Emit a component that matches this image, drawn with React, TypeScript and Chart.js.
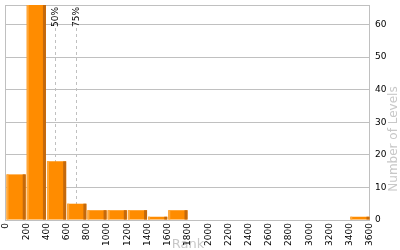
import { useEffect, useRef } from 'react';
import { Chart, registerables } from 'chart.js';

Chart.register(...registerables);

const binStarts = [0, 200, 400, 600, 800, 1000, 1200, 1400, 1600, 1800, 2000, 2200, 2400, 2600, 2800, 3000, 3200, 3400];
const levelCounts = [14, 66, 18, 5, 3, 3, 3, 1, 3, 0, 0, 0, 0, 0, 0, 0, 0, 1];
const binWidth = 200;
const xTickValues = [0, 200, 400, 600, 800, 1000, 1200, 1400, 1600, 1800, 2000, 2200, 2400, 2600, 2800, 3000, 3200, 3400, 3600];
const yTickValues = [0, 10, 20, 30, 40, 50, 60];
const yMax = 66;
const percentileValues = [487, 688];
const percentileLabels = ['50%', '75%'];
const xTitle = 'Rank';
const yTitle = 'Number of Levels';

const FONT = "'DejaVu Sans', Verdana, sans-serif";

const decorPlugin = {
  id: 'decor',
  beforeDatasetsDraw(chart: any) {
    const { ctx, chartArea } = chart;
    const xs = chart.scales.x;
    ctx.save();
    // box border
    ctx.strokeStyle = '#c0c0c0';
    ctx.lineWidth = 1;
    ctx.strokeRect(
      Math.round(chartArea.left) - 0.5,
      Math.round(chartArea.top) + 0.5,
      Math.round(chartArea.right - chartArea.left),
      Math.round(chartArea.bottom - chartArea.top)
    );
    // percentile lines
    percentileValues.forEach((v, i) => {
      const px = Math.round(xs.getPixelForValue(v)) + 0.5;
      ctx.strokeStyle = '#c0c0c0';
      ctx.setLineDash([3, 3]);
      ctx.beginPath();
      ctx.moveTo(px, chartArea.top + 23);
      ctx.lineTo(px, chartArea.bottom);
      ctx.stroke();
      ctx.setLineDash([]);
      ctx.save();
      ctx.translate(px, chartArea.top + 2);
      ctx.rotate(-Math.PI / 2);
      ctx.fillStyle = '#000';
      ctx.font = `9px ${FONT}`;
      ctx.textAlign = 'right';
      ctx.textBaseline = 'middle';
      ctx.fillText(percentileLabels[i], 0, 0);
      ctx.restore();
    });
    ctx.restore();
  },
  afterDatasetsDraw(chart: any) {
    const { ctx, chartArea } = chart;
    const meta = chart.getDatasetMeta(0);
    ctx.save();
    meta.data.forEach((el: any, i: number) => {
      if (!levelCounts[i]) return;
      const { x, y, base, width } = el.getProps(['x', 'y', 'base', 'width'], true);
      const left = x - width / 2;
      const top = Math.max(y, chartArea.top);
      ctx.fillStyle = '#ffa83a';
      ctx.fillRect(left, top, 2, base - top);
      ctx.fillStyle = '#c4690c';
      ctx.fillRect(left + width - 3, top, 3, base - top);
    });
    // y title (reads bottom to top)
    ctx.save();
    ctx.translate(394, 139);
    ctx.rotate(-Math.PI / 2);
    ctx.fillStyle = '#c8c8c8';
    ctx.font = `12px ${FONT}`;
    ctx.textAlign = 'center';
    ctx.textBaseline = 'middle';
    ctx.fillText(yTitle, 0, 0);
    ctx.restore();
    ctx.restore();
  },
};

export default function App() {
  const canvasRef = useRef<HTMLCanvasElement>(null);

  useEffect(() => {
    const canvas = canvasRef.current;
    if (!canvas) return;
    const chart = new Chart(canvas, {
      type: 'bar',
      data: {
        datasets: [
          {
            data: binStarts.map((s, i) => ({ x: s + binWidth / 2, y: levelCounts[i] })),
            backgroundColor: '#ff8c00',
            borderWidth: 0,
            barPercentage: 0.95,
            categoryPercentage: 1,
          },
        ],
      },
      options: {
        animation: false,
        responsive: true,
        maintainAspectRatio: false,
        layout: { padding: { left: 6, top: 5, right: 0, bottom: 0 } },
        plugins: { legend: { display: false }, tooltip: { enabled: false } },
        scales: {
          x: {
            type: 'linear',
            offset: false,
            min: 0,
            max: 3600,
            afterBuildTicks: (scale: any) => {
              scale.ticks = xTickValues.map((v) => ({ value: v }));
            },
            afterFit: (scale: any) => {
              scale.height = 30;
            },
            grid: { display: false, drawTicks: false, offset: false },
            border: { display: false },
            ticks: {
              autoSkip: false,
              minRotation: 90,
              maxRotation: 90,
              padding: 3,
              color: '#000',
              font: { family: FONT, size: 9 },
              callback: (v: any) => String(v),
            },
            title: {
              display: true,
              text: xTitle,
              color: '#c8c8c8',
              font: { family: FONT, size: 13 },
              padding: { top: 0, bottom: -2 },
            },
          },
          y: {
            type: 'linear',
            position: 'right',
            min: 0,
            max: yMax,
            afterBuildTicks: (scale: any) => {
              scale.ticks = yTickValues.map((v) => ({ value: v }));
            },
            afterFit: (scale: any) => {
              scale.width = 30;
              scale.paddingTop = 0;
              scale.paddingBottom = 0;
            },
            grid: { color: '#c0c0c0', drawTicks: false },
            border: { display: false },
            ticks: {
              padding: 5,
              color: '#000',
              font: { family: FONT, size: 9 },
              callback: (v: any) => String(v),
            },
          },
        },
      },
      plugins: [decorPlugin],
    });
    return () => chart.destroy();
  }, []);

  return (
    <div style={{ position: 'absolute', left: 0, top: 0, width: 400, height: 250 }}>
      <canvas ref={canvasRef} />
    </div>
  );
}
